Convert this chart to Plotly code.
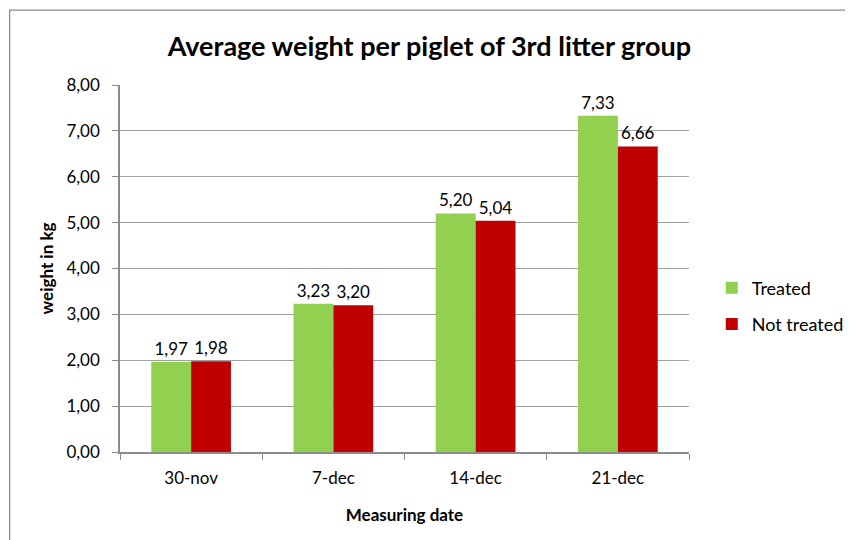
import plotly.graph_objects as go

# measuring dates and average weights (kg)
dates = ['30-nov', '7-dec', '14-dec', '21-dec']
treated = [1.97, 3.23, 5.20, 7.33]
not_treated = [1.98, 3.20, 5.04, 6.66]
y_ticks = [0, 1, 2, 3, 4, 5, 6, 7, 8]

FONT = 'Lato'

fig = go.Figure()
fig.add_trace(go.Bar(
    x=dates, y=treated, name='Treated', legendgroup='a',
    marker=dict(color='#92D050', line=dict(width=0)),
    texttemplate='%{y:.2f}', textposition='outside',
    textfont=dict(size=17, color='black'), cliponaxis=False
))
fig.add_trace(go.Bar(
    x=dates, y=not_treated, name='Not treated', legendgroup='b',
    marker=dict(color='#C00000', line=dict(width=0)),
    texttemplate='%{y:.2f}', textposition='outside',
    textfont=dict(size=17, color='black'), cliponaxis=False
))

# outer chart frame
fig.add_shape(type='rect', xref='paper', yref='paper',
              x0=-0.194, x1=1.40, y0=-0.40, y1=1.204,
              line=dict(color='#8c8c8c', width=1.3), layer='below')

fig.update_layout(
    width=853, height=540,
    margin=dict(l=112, r=169, t=77, b=96),
    paper_bgcolor='white', plot_bgcolor='white',
    separators=',.',
    font=dict(family=FONT, size=17, color='black'),
    title=dict(text='<b>Average weight per piglet of 3rd litter group</b>',
               x=0.494, xanchor='center', y=0.928, yanchor='middle',
               font=dict(family=FONT, size=27, color='black')),
    barmode='group', bargap=0.44, bargroupgap=0,
    legend=dict(x=1.04, y=0.398, xanchor='left', yanchor='middle',
                font=dict(family=FONT, size=18), tracegroupgap=10,
                traceorder='grouped', itemwidth=30, bgcolor='rgba(0,0,0,0)'),
    xaxis=dict(
        title=dict(text='<b>Measuring date</b>', font=dict(size=17), standoff=22),
        showline=True, linecolor='#8c8c8c', linewidth=1.5,
        ticks='outside', tickson='boundaries', ticklen=6, tickcolor='#8c8c8c',
        tickfont=dict(size=17), ticklabelstandoff=10,
        showgrid=False, automargin=False
    ),
    yaxis=dict(
        title=dict(text='<b>weight in kg</b>', font=dict(size=17), standoff=8),
        range=[0, 8], tickvals=y_ticks, tickformat='.2f',
        showline=True, linecolor='#8c8c8c', linewidth=1.5,
        ticks='outside', ticklen=6, tickcolor='#8c8c8c',
        showgrid=True, gridcolor='#a0a0a0', gridwidth=1.2,
        zeroline=False, tickfont=dict(size=17), ticklabelstandoff=9,
        automargin=False
    )
)

fig.write_html('out.html')
